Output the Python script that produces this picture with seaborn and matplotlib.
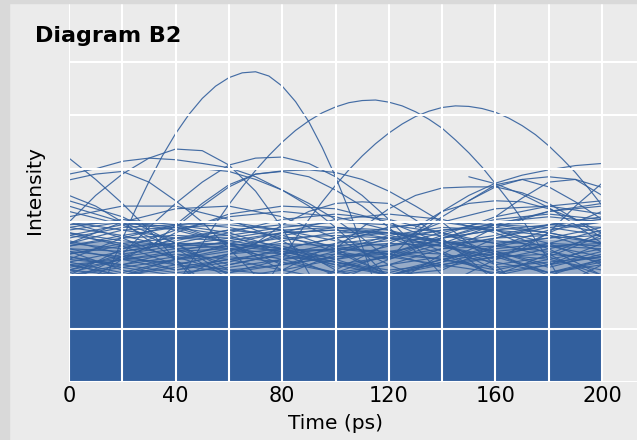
import numpy as np
import pandas as pd
import matplotlib
matplotlib.use("Agg")
import matplotlib.pyplot as plt
import seaborn as sns
from matplotlib.patches import Rectangle

# ---------------- data ----------------
X10 = list(range(0, 201, 10))   # 21 sample times for the medium-tall curves
X20 = list(range(0, 201, 20))   # 11 sample times for the dense mid band
N = None

# the three tallest arcs, finely read (own time grids)
time_a = list(range(0, 126, 5))
curve_a = [0.17, 0.82, 1.46, 2.08, 2.68, 3.24, 3.76, 4.24, 4.66, 5.02, 5.32, 5.55, 5.71, 5.80,
           5.82, 5.74, 5.55, 5.26, 4.88, 4.40, 3.85, 3.23, 2.55, 1.81, 1.05, 0.27]
time_b = list(range(30, 201, 5))
curve_b = [0.93, 1.36, 1.78, 2.19, 2.59, 2.97, 3.33, 3.66, 3.97, 4.25, 4.50, 4.72, 4.90, 5.05,
           5.16, 5.24, 5.28, 5.29, 5.25, 5.18, 5.07, 4.93, 4.76, 4.54, 4.30, 4.03, 3.72, 3.40,
           3.05, 2.67, 2.28, 1.87, 1.44, 1.01, 0.58]
time_c = list(range(60, 201, 5))
curve_c = [0.68, 1.10, 1.52, 1.92, 2.31, 2.69, 3.05, 3.38, 3.69, 3.98, 4.24, 4.47, 4.67, 4.84,
           4.98, 5.08, 5.15, 5.18, 5.17, 5.13, 5.06, 4.95, 4.81, 4.64, 4.43, 4.19, 3.93, 3.63, 3.31]

# medium-tall curves (values at X10)
curve_d1 = [4.2, 3.8, 3.35, 2.85, 2.3, 1.75, 1.2, N, N, N, N, N, N, N, N, N, N, N, N, N, N]
curve_d2 = [3.9, 4.0, 4.14, 4.2, 4.17, 4.1, 4.02, 3.85, 3.6, 3.3, 2.9, 2.45, 1.95, 1.4, N, N, N, N, N, N, N]
curve_e = [3.0, 3.5, 3.9, 4.2, 4.37, 4.34, 4.07, 3.58, 2.89, 2.04, 1.1, N, N, N, N, N, N, N, N, N, N]
curve_g = [N, N, N, N, 2.9, 3.3, 3.66, 3.9, 3.96, 3.98, 3.93, 3.8, 3.58, 3.3, 3.0, 2.6, 2.2, 1.75, N, N, N]
curve_h = [N, N, 2.4, 2.9, 3.35, 3.75, 4.07, 4.2, 4.22, 4.1, 3.85, 3.5, 3.05, 2.55, 2.0, N, N, N, N, N, N]
curve_j = [3.79, 3.9, 3.95, 3.75, 3.4, 3.0, 2.5, 2.0, N, N, N, N, N, N, N, N, N, N, N, N, N]
curve_k = [3.5, 3.3, 3.0, 2.65, 2.3, 1.9, N, N, N, N, N, N, N, N, N, N, N, N, N, N, N]
curve_n1 = [N, N, N, 2.5, 2.95, 3.35, 3.7, 3.9, 3.95, 3.85, 3.6, 3.3, 2.9, 2.45, N, N, N, N, N, N, N]
curve_n2 = [N, N, N, N, N, 4.0, 3.95, 3.8, 3.6, 3.35, 3.05, 2.7, 2.3, N, N, N, N, N, N, N, N]
curve_r1 = [N, N, N, N, N, N, N, N, N, N, N, N, 2.3, 2.8, 3.2, 3.5, 3.73, 3.88, 3.98, 4.06, 4.1]
curve_r2 = [N, N, N, N, N, N, N, N, N, N, N, N, N, N, N, N, 3.1, 3.45, 3.75, 3.8, 3.5]
curve_r3 = [N, N, N, N, N, N, N, N, N, N, 2.5, 2.9, 3.25, 3.5, 3.64, 3.66, 3.66, 3.55, 3.35, 3.05, 2.7]
curve_r4 = [N, N, N, N, N, N, N, 2.6, 2.95, 3.2, 3.35, 3.38, 3.35, 3.04, 2.7, 2.3, 1.9, N, N, N, N]
curve_r5 = [N, N, N, N, N, N, N, N, N, N, N, N, N, N, N, 3.4, 3.7, 3.8, 3.66, 3.38, 3.05]
curve_r6 = [N, N, N, N, N, N, N, N, N, N, N, N, N, N, N, N, N, 2.5, 2.8, 3.3, 3.73]
curve_r7 = [N, N, N, N, N, N, N, N, N, N, N, N, N, 2.9, 3.2, 3.35, 3.4, 3.38, 3.25, 3.05, 2.8]
curve_r8 = [N, N, N, N, N, N, N, N, N, N, N, N, N, N, N, 3.85, 3.72, 3.52, 3.27, 2.95, 2.6]
curve_r9 = [N, N, N, N, N, N, N, N, N, N, N, N, N, 2.75, 3.1, 3.4, 3.66, 3.8, 3.85, 3.8, 3.65]

MEDIUM = [curve_d1, curve_d2, curve_e, curve_g, curve_h, curve_j, curve_k, curve_n1,
          curve_n2, curve_r1, curve_r2, curve_r3, curve_r4, curve_r5, curve_r6, curve_r7,
          curve_r8, curve_r9]

# dense mid-band curves (values at X20)
MID = [
    [2.9, 3.05, 2.95, 2.6, 2.1, 1.9, 2.3, 2.7, 2.95, 3.0, 2.8],
    [2.3, 2.7, 2.95, 3.0, 2.85, 2.5, 2.0, 2.1, 2.55, 2.85, 3.0],
    [3.2, 2.95, 2.5, 1.95, 2.1, 2.6, 2.9, 3.0, 2.85, 2.5, 2.0],
    [2.5, 2.45, 2.6, 2.8, 3.05, 3.15, 3.05, 2.8, 2.4, 2.0, 2.3],
    [1.9, 2.35, 2.7, 2.85, 2.75, 2.45, 2.0, 2.25, 2.7, 2.95, 3.1],
    [2.7, 2.9, 2.95, 2.8, 2.5, 2.15, 2.35, 2.7, 2.85, 2.75, 2.45],
    [3.0, 2.7, 2.3, 2.45, 2.75, 2.9, 2.85, 2.6, 2.2, 2.35, 2.75],
    [2.2, 2.0, 2.3, 2.6, 2.8, 2.85, 2.7, 2.4, 2.0, 2.4, 2.8],
    [2.6, 2.85, 2.9, 2.75, 2.4, 2.0, 2.2, 2.5, 2.7, 2.75, 2.6],
    [2.0, 2.5, 2.85, 3.1, 3.2, 3.1, 2.85, 2.45, 2.0, 2.2, 2.6],
    [2.8, 2.55, 2.2, 2.4, 2.65, 2.8, 2.8, 2.65, 2.4, 2.05, 2.3],
    [2.4, 2.6, 2.7, 2.65, 2.5, 2.25, 2.0, 2.3, 2.55, 2.7, 2.75],
    [3.3, 3.0, 2.6, 2.1, 2.0, 2.4, 2.7, 2.85, 2.9, 2.8, 2.6],
    [2.1, 2.4, 2.55, 2.6, 2.5, 2.3, 2.45, 2.6, 2.65, 2.55, 2.35],
    [2.65, 2.4, 2.1, 2.25, 2.5, 2.7, 2.8, 2.75, 2.6, 2.35, 2.0],
    [2.3, 2.2, 2.35, 2.55, 2.7, 2.75, 2.7, 2.55, 2.3, 2.5, 2.7],
    [2.9, 2.75, 2.5, 2.2, 2.4, 2.6, 2.7, 2.65, 2.45, 2.15, 2.4],
    [2.0, 2.2, 2.45, 2.65, 2.8, 2.85, 2.8, 2.65, 2.45, 2.2, 2.45],
    [2.55, 2.7, 2.75, 2.7, 2.55, 2.3, 2.0, 2.2, 2.4, 2.55, 2.6],
    [2.25, 2.05, 2.3, 2.5, 2.6, 2.55, 2.4, 2.15, 2.35, 2.6, 2.85],
    [3.4, 3.1, 2.6, 2.0, 1.6, 2.1, 2.6, 3.0, 3.25, 3.3, 3.15],
    [1.7, 2.3, 2.8, 3.15, 3.3, 3.25, 3.0, 2.6, 2.1, 1.7, 2.2],
    [2.6, 3.0, 3.25, 3.3, 3.1, 2.7, 2.2, 1.8, 2.3, 2.8, 3.2],
    [3.1, 3.3, 3.3, 3.05, 2.65, 2.1, 1.8, 2.4, 2.9, 3.2, 3.35],
    [2.45, 2.1, 1.9, 2.4, 2.8, 3.05, 3.15, 3.05, 2.8, 2.4, 1.9],
    [2.85, 3.0, 2.9, 2.6, 2.2, 2.45, 2.75, 2.9, 2.85, 2.6, 2.2],
    [2.15, 2.35, 2.5, 2.55, 2.45, 2.25, 2.05, 2.3, 2.5, 2.6, 2.55],
    [2.35, 2.15, 2.0, 2.2, 2.4, 2.5, 2.45, 2.3, 2.1, 2.3, 2.5],
    [2.75, 2.6, 2.35, 2.05, 2.3, 2.5, 2.6, 2.55, 2.35, 2.05, 2.25],
    [2.05, 2.3, 2.45, 2.5, 2.4, 2.2, 2.35, 2.5, 2.55, 2.45, 2.25],
    [2.2, 2.0, 2.2, 2.4, 2.5, 2.45, 2.3, 2.6, 2.95, 3.2, 3.3],
    [2.5, 2.3, 2.1, 2.3, 2.45, 2.5, 2.4, 2.7, 3.0, 3.1, 3.0],
    [2.1, 2.3, 2.4, 2.3, 2.1, 2.3, 2.55, 2.8, 3.05, 3.15, 3.05],
    [2.4, 2.55, 2.6, 2.5, 2.3, 2.05, 2.4, 2.75, 3.1, 3.3, 3.4],
    [2.2, 2.3, 2.25, 2.1, 2.2, 2.35, 2.4, 2.3, 2.15, 2.25, 2.35],
    [2.1, 2.0, 2.15, 2.3, 2.35, 2.25, 2.1, 2.2, 2.35, 2.4, 2.3],
    [2.35, 2.2, 2.05, 2.15, 2.3, 2.4, 2.35, 2.2, 2.05, 2.2, 2.35],
    [2.0, 2.15, 2.3, 2.35, 2.25, 2.05, 2.2, 2.35, 2.4, 2.3, 2.1],
    [2.45, 2.35, 2.2, 2.05, 2.2, 2.35, 2.45, 2.4, 2.25, 2.05, 2.2],
    [2.25, 2.45, 2.6, 2.6, 2.45, 2.2, 2.0, 2.25, 2.45, 2.55, 2.5],
    [2.75, 2.95, 3.0, 2.9, 2.7, 2.55, 2.65, 2.85, 2.95, 2.9, 2.75],
    [2.6, 2.5, 2.65, 2.85, 2.95, 2.9, 2.75, 2.55, 2.7, 2.9, 3.0],
    [3.0, 2.85, 2.7, 2.75, 2.9, 3.0, 2.95, 2.8, 2.6, 2.7, 2.9],
    [2.55, 2.75, 2.9, 2.95, 2.85, 2.65, 2.55, 2.7, 2.85, 2.95, 2.9],
    [2.8, 2.65, 2.55, 2.7, 2.85, 2.9, 2.8, 2.6, 2.75, 2.95, 3.05],
    [2.95, 3.0, 2.85, 2.6, 2.5, 2.7, 2.9, 3.0, 2.95, 2.8, 2.6],
]

# solid lower mass and the hazy zone right above it
BAND_X = [0, 50, 100, 150, 200]
BAND_TOP = [2.0, 2.0, 2.0, 2.0, 2.0]
HAZE_TOP = [2.65, 2.6, 2.6, 2.65, 2.7]

X_TICKS = [0, 40, 80, 120, 160, 200]
X_MINOR = [20, 60, 100, 140, 180]
Y_GRID = [0, 1, 2, 3, 4, 5, 6]

# ---------------- build table ----------------
rows = []
cid = 0
for xs, c in [(time_a, curve_a), (time_b, curve_b), (time_c, curve_c)]:
    for t, v in zip(xs, c):
        rows.append((cid, t, v))
    cid += 1
for c in MEDIUM:
    for t, v in zip(X10, c):
        if v is not None:
            rows.append((cid, t, v))
    cid += 1
for c in MID:
    for t, v in zip(X20, c):
        rows.append((cid, t, v))
    cid += 1
df = pd.DataFrame(rows, columns=["curve", "time", "intensity"])

# ---------------- style ----------------
BG = "#ebebeb"
BLUE = "#325f9d"
sns.set_theme(style="darkgrid", rc={
    "axes.facecolor": BG, "figure.facecolor": BG,
    "grid.color": "white", "grid.linewidth": 1.5,
    "axes.edgecolor": BG,
})
plt.rcParams["font.family"] = ["DejaVu Sans"]

fig = plt.figure(figsize=(6.37, 4.4), dpi=100)
fig.patches.append(Rectangle((0, 0), 9 / 637, 1, transform=fig.transFigure,
                             color="#d9d9d9", zorder=0))
fig.patches.append(Rectangle((0, 1 - 3 / 440), 1, 3 / 440, transform=fig.transFigure,
                             color="#d9d9d9", zorder=0))
ax = fig.add_axes([69 / 637, 58 / 440, (637 - 69) / 637, (382 - 3) / 440])

ax.fill_between(BAND_X, 0, BAND_TOP, color=BLUE, lw=0, zorder=1)
ax.fill_between(BAND_X, BAND_TOP, HAZE_TOP, color=BLUE, alpha=0.45, lw=0, zorder=1)

sns.lineplot(data=df, x="time", y="intensity", units="curve", estimator=None,
             color=BLUE, lw=0.85, alpha=0.9, ax=ax, legend=False)

ax.set_xlim(0, 213.1)
ax.set_ylim(0, 7.11)
ax.set_xticks(X_TICKS)
ax.set_xticks(X_MINOR, minor=True)
ax.set_yticks(Y_GRID)
ax.set_yticklabels([])
ax.grid(True, which="both", color="white", lw=1.5)
ax.set_axisbelow(False)
ax.tick_params(axis="both", which="both", length=0)
ax.tick_params(axis="x", labelsize=15, pad=3, colors="black")
ax.set_xlabel("")
ax.set_ylabel("")
for s in ax.spines.values():
    s.set_visible(False)

fig.text(35 / 637, 1 - 42 / 440, "Diagram B2", fontsize=16, fontweight="heavy",
         ha="left", va="baseline", color="black")
fig.text(335.5 / 637, 1 - 423 / 440, "Time (ps)", fontsize=14.5, ha="center",
         va="center", color="black")
fig.text(35 / 637, 1 - 190 / 440, "Intensity", fontsize=14.5, rotation=90,
         ha="center", va="center", color="black")

fig.savefig("out.png", dpi=100)
